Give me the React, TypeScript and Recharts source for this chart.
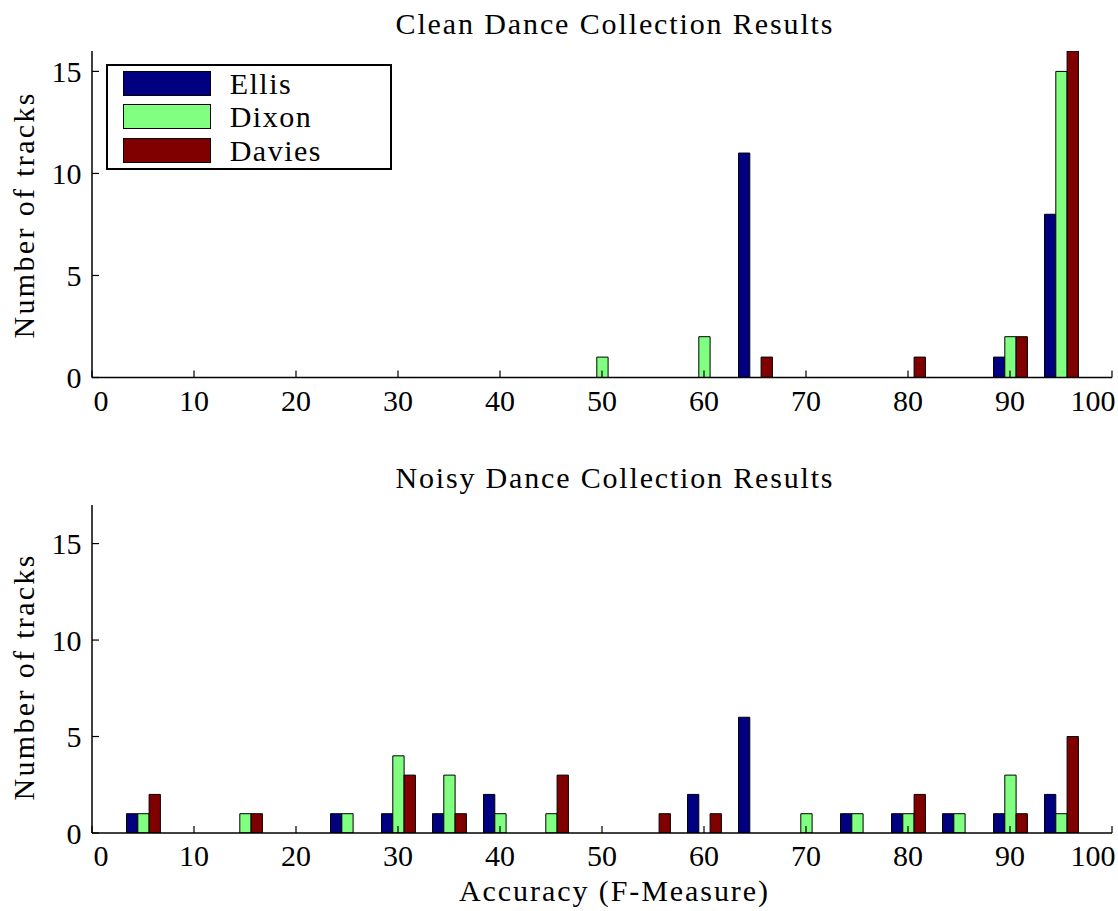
import React from 'react';
import { BarChart, Bar, XAxis, YAxis, Legend, Customized } from 'recharts';

// histogram bin centres (accuracy, %)
const bins = [5, 10, 15, 20, 25, 30, 35, 40, 45, 50, 55, 60, 65, 70, 75, 80, 85, 90, 95];

const cleanEllis = [0, 0, 0, 0, 0, 0, 0, 0, 0, 0, 0, 0, 11, 0, 0, 0, 0, 1, 8];
const cleanDixon = [0, 0, 0, 0, 0, 0, 0, 0, 0, 1, 0, 2, 0, 0, 0, 0, 0, 2, 15];
const cleanDavies = [0, 0, 0, 0, 0, 0, 0, 0, 0, 0, 0, 0, 1, 0, 0, 1, 0, 2, 16];

const noisyEllis = [1, 0, 0, 0, 1, 1, 1, 2, 0, 0, 0, 2, 6, 0, 1, 1, 1, 1, 2];
const noisyDixon = [1, 0, 1, 0, 1, 4, 3, 1, 1, 0, 0, 0, 0, 1, 1, 1, 1, 3, 1];
const noisyDavies = [2, 0, 1, 0, 0, 3, 1, 0, 3, 0, 1, 1, 0, 0, 0, 2, 0, 1, 5];

const seriesOrder = ['Ellis', 'Dixon', 'Davies'];
const xTicks = [0, 10, 20, 30, 40, 50, 60, 70, 80, 90, 100];
const yTicks = [0, 5, 10, 15];

const colors = { ellis: '#000080', dixon: '#80ff80', davies: '#800000' };
const FONT = "'Liberation Serif', 'Times New Roman', serif";
const FS = 30;

const buildRows = (e: number[], dx: number[], dv: number[]) =>
  bins.map((b, i) => ({ acc: b, Ellis: e[i], Dixon: dx[i], Davies: dv[i] }));

const cleanData = buildRows(cleanEllis, cleanDixon, cleanDavies);
const noisyData = buildRows(noisyEllis, noisyDixon, noisyDavies);

const BottomTick = (props: any) => {
  const { x, y, payload } = props;
  // edge labels sit slightly inside the frame, like the original figure
  let lx = x;
  if (payload.value === 0) lx = x + 9;
  if (payload.value === 100) lx = x - 19;
  return (
    <g>
      <line x1={x} x2={x} y1={y} y2={y - 7} stroke="#000" strokeWidth={1.2} />
      <text x={lx} y={y + 33} textAnchor="middle" fontSize={FS} fontFamily={FONT} fill="#000">
        {payload.value}
      </text>
    </g>
  );
};

const TopTick = (props: any) => {
  const { x, y } = props;
  return <line x1={x} x2={x} y1={y} y2={y + 7} stroke="#000" strokeWidth={1.2} />;
};

const LeftTick = (props: any) => {
  const { x, y, payload } = props;
  return (
    <g>
      <line x1={x} x2={x + 7} y1={y} y2={y} stroke="#000" strokeWidth={1.2} />
      <text x={x - 10.5} y={y + 10.5} textAnchor="end" fontSize={FS} fontFamily={FONT} fill="#000">
        {payload.value}
      </text>
    </g>
  );
};

const RightTick = (props: any) => {
  const { x, y } = props;
  return <line x1={x} x2={x - 7} y1={y} y2={y} stroke="#000" strokeWidth={1.2} />;
};

const LegendBox = (props: any) => {
  const items = [...(props.payload || [])].sort(
    (a: any, b: any) => seriesOrder.indexOf(a.value) - seriesOrder.indexOf(b.value)
  );
  return (
    <div
      style={{
        position: 'relative',
        width: 286,
        height: 106,
        border: '2px solid #000',
        boxSizing: 'border-box',
        background: '#fff',
      }}
    >
      {items.map((entry: any, i: number) => (
        <div key={entry.value} style={{ position: 'absolute', left: 15, top: 4.7 + i * 33.5, height: 25 }}>
          <div
            style={{
              position: 'absolute',
              left: 0,
              top: 0,
              width: 88,
              height: 25,
              background: entry.color,
              border: '1px solid #000',
              boxSizing: 'border-box',
            }}
          />
          <div
            style={{
              position: 'absolute',
              left: 107,
              top: 0,
              lineHeight: '25px',
              fontSize: FS,
              fontFamily: FONT,
              letterSpacing: 1.5,
              whiteSpace: 'nowrap',
              color: '#000',
            }}
          >
            {entry.value}
          </div>
        </div>
      ))}
    </div>
  );
};

const Texts = ({ title, titleY, yLabelY, xLabel }: { title: string; titleY: number; yLabelY: number; xLabel?: boolean }) => (
  <g fontFamily={FONT} fontSize={FS} fill="#000">
    <text x={614} y={titleY} textAnchor="middle" textLength={437} lengthAdjust="spacing">
      {title}
    </text>
    <text
      x={0}
      y={0}
      textAnchor="middle"
      textLength={245}
      lengthAdjust="spacing"
      transform={`translate(34, ${yLabelY}) rotate(-90)`}
    >
      Number of tracks
    </text>
    {xLabel && (
      <text x={613.5} y={446} textAnchor="middle" textLength={309} lengthAdjust="spacing">
        Accuracy (F-Measure)
      </text>
    )}
  </g>
);

const Panel = ({
  data,
  yMax,
  height,
  top,
  marginTop,
  xAxisHeight,
  title,
  titleY,
  yLabelY,
  xLabel,
  legend,
}: any) => (
  <div style={{ position: 'absolute', left: 0, top, width: 1118, height }}>
    <BarChart
      width={1118}
      height={height}
      data={data}
      margin={{ top: marginTop, right: 6, bottom: 0, left: 0 }}
      barGap={0}
      barSize={11.3}
    >
      <XAxis
        dataKey="acc"
        type="number"
        domain={[0, 100]}
        ticks={xTicks}
        interval={0}
        height={xAxisHeight}
        tickSize={0}
        tickMargin={0}
        tickLine={false}
        axisLine={{ stroke: '#000', strokeWidth: 1.5 }}
        tick={<BottomTick />}
      />
      <XAxis
        xAxisId="top"
        orientation="top"
        dataKey="acc"
        type="number"
        domain={[0, 100]}
        ticks={xTicks}
        interval={0}
        height={0}
        tickSize={0}
        tickMargin={0}
        tickLine={false}
        axisLine={{ stroke: '#000', strokeWidth: 1.5 }}
        tick={<TopTick />}
      />
      <YAxis
        type="number"
        domain={[0, yMax]}
        ticks={yTicks}
        interval={0}
        width={92}
        tickSize={0}
        tickMargin={0}
        tickLine={false}
        allowDataOverflow
        axisLine={{ stroke: '#000', strokeWidth: 1.5 }}
        tick={<LeftTick />}
      />
      <YAxis
        yAxisId="right"
        orientation="right"
        type="number"
        domain={[0, yMax]}
        ticks={yTicks}
        interval={0}
        width={0}
        tickSize={0}
        tickMargin={0}
        tickLine={false}
        allowDataOverflow
        axisLine={{ stroke: '#000', strokeWidth: 1.5 }}
        tick={<RightTick />}
      />
      <Bar dataKey="Ellis" name="Ellis" fill={colors.ellis} stroke="#000" strokeWidth={1} isAnimationActive={false} />
      <Bar dataKey="Dixon" name="Dixon" fill={colors.dixon} stroke="#000" strokeWidth={1} isAnimationActive={false} />
      <Bar dataKey="Davies" name="Davies" fill={colors.davies} stroke="#000" strokeWidth={1} isAnimationActive={false} />
      {legend && (
        <Legend
          layout="vertical"
          verticalAlign="middle"
          align="center"
          content={<LegendBox />}
          wrapperStyle={{ position: 'absolute', left: 105.7, top: 64, width: 286, height: 106 }}
        />
      )}
      <Customized
        component={() => <Texts title={title} titleY={titleY} yLabelY={yLabelY} xLabel={xLabel} />}
      />
    </BarChart>
  </div>
);

export default function App() {
  return (
    <div style={{ position: 'absolute', left: 0, top: 0, width: 1118, height: 911, background: '#fff' }}>
      <Panel
        data={cleanData}
        yMax={16}
        height={455}
        top={0}
        marginTop={51}
        xAxisHeight={77.5}
        title="Clean Dance Collection Results"
        titleY={33.7}
        yLabelY={216}
        legend
      />
      <Panel
        data={noisyData}
        yMax={17}
        height={456}
        top={455}
        marginTop={50}
        xAxisHeight={78}
        title="Noisy Dance Collection Results"
        titleY={32.7}
        yLabelY={223}
        xLabel
      />
    </div>
  );
}
